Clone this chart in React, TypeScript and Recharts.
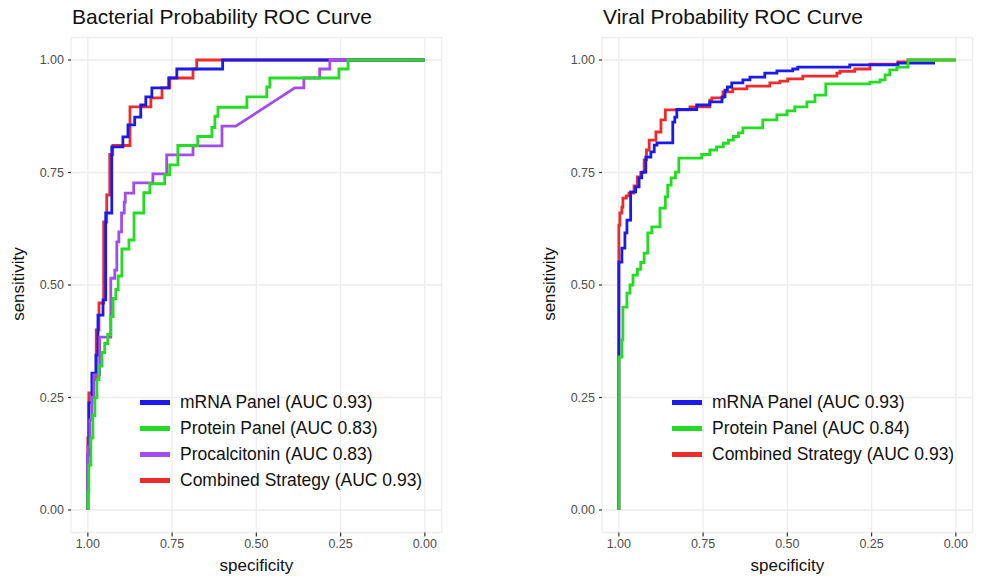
import React from 'react';
import { LineChart, Line, XAxis, YAxis, CartesianGrid } from 'recharts';

// ROC vertices: [specificity, sensitivity]
const bactMrna: number[][] = [
  [1, 0], [1, 0.122], [0.997, 0.122], [0.997, 0.238], [0.988, 0.238], [0.988, 0.304], [0.976, 0.304],
  [0.976, 0.344], [0.97, 0.344], [0.97, 0.433], [0.955, 0.433], [0.955, 0.467], [0.947, 0.467],
  [0.947, 0.66], [0.929, 0.66], [0.929, 0.807], [0.896, 0.807], [0.896, 0.829], [0.881, 0.829],
  [0.881, 0.856], [0.861, 0.856], [0.861, 0.873], [0.843, 0.873], [0.843, 0.9], [0.828, 0.9],
  [0.828, 0.918], [0.81, 0.918], [0.81, 0.938], [0.76, 0.938], [0.76, 0.96], [0.736, 0.96],
  [0.736, 0.98], [0.6, 0.98], [0.6, 1], [0, 1],
];
const bactProtein: number[][] = [
  [1, 0], [1, 0.04], [0.997, 0.04], [0.997, 0.1], [0.991, 0.1], [0.991, 0.16], [0.985, 0.16],
  [0.985, 0.21], [0.979, 0.21], [0.979, 0.25], [0.973, 0.25], [0.973, 0.29], [0.967, 0.29],
  [0.967, 0.32], [0.958, 0.32], [0.958, 0.35], [0.95, 0.35], [0.95, 0.37], [0.941, 0.37],
  [0.941, 0.39], [0.932, 0.39], [0.932, 0.43], [0.925, 0.43], [0.925, 0.47], [0.917, 0.47],
  [0.917, 0.49], [0.91, 0.49], [0.91, 0.52], [0.899, 0.52], [0.899, 0.58], [0.878, 0.58],
  [0.878, 0.6], [0.863, 0.6], [0.863, 0.66], [0.834, 0.66], [0.834, 0.705], [0.816, 0.705],
  [0.816, 0.725], [0.772, 0.725], [0.772, 0.745], [0.757, 0.745], [0.757, 0.767], [0.733, 0.767],
  [0.733, 0.81], [0.674, 0.81], [0.674, 0.83], [0.632, 0.83], [0.632, 0.85], [0.623, 0.85],
  [0.623, 0.875], [0.614, 0.875], [0.614, 0.895], [0.528, 0.895], [0.528, 0.918], [0.469, 0.918],
  [0.469, 0.94], [0.46, 0.94], [0.46, 0.96], [0.255, 0.96], [0.255, 0.98], [0.228, 0.98],
  [0.228, 1], [0, 1],
];
const bactPct: number[][] = [
  [1, 0], [1, 0.14], [0.994, 0.14], [0.994, 0.2], [0.988, 0.2], [0.988, 0.25], [0.982, 0.25],
  [0.982, 0.3], [0.965, 0.3], [0.965, 0.384], [0.932, 0.384], [0.932, 0.515], [0.92, 0.515],
  [0.92, 0.533], [0.914, 0.533], [0.914, 0.596], [0.908, 0.596], [0.908, 0.618], [0.9, 0.618],
  [0.9, 0.66], [0.892, 0.66], [0.892, 0.684], [0.889, 0.684], [0.889, 0.704], [0.864, 0.704],
  [0.864, 0.727], [0.807, 0.727], [0.807, 0.747], [0.766, 0.747], [0.766, 0.789], [0.688, 0.789],
  [0.688, 0.809], [0.602, 0.809], [0.602, 0.853], [0.561, 0.853], [0.386, 0.938], [0.359, 0.938],
  [0.359, 0.96], [0.312, 0.96], [0.312, 0.98], [0.282, 0.98], [0.282, 1], [0, 1],
];
const bactCombined: number[][] = [
  [1, 0], [1, 0.16], [0.997, 0.16], [0.997, 0.26], [0.985, 0.26], [0.985, 0.29], [0.975, 0.29],
  [0.975, 0.4], [0.967, 0.4], [0.967, 0.46], [0.953, 0.46], [0.953, 0.64], [0.944, 0.64],
  [0.944, 0.7], [0.935, 0.7], [0.935, 0.79], [0.926, 0.79], [0.926, 0.81], [0.875, 0.81],
  [0.875, 0.896], [0.813, 0.896], [0.813, 0.916], [0.78, 0.916], [0.78, 0.938], [0.757, 0.938],
  [0.757, 0.96], [0.688, 0.96], [0.688, 0.98], [0.677, 0.98], [0.677, 1], [0, 1],
];

const viralMrna: number[][] = [
  [1, 0], [1, 0.551], [0.991, 0.551], [0.991, 0.582], [0.982, 0.582], [0.982, 0.616], [0.976, 0.616],
  [0.976, 0.644], [0.965, 0.644], [0.965, 0.707], [0.95, 0.707], [0.95, 0.718], [0.94, 0.718],
  [0.94, 0.738], [0.932, 0.738], [0.932, 0.751], [0.92, 0.751], [0.92, 0.784], [0.905, 0.784],
  [0.905, 0.796], [0.895, 0.796], [0.895, 0.811], [0.887, 0.811], [0.887, 0.816], [0.84, 0.816],
  [0.84, 0.862], [0.834, 0.862], [0.834, 0.873], [0.828, 0.873], [0.828, 0.89], [0.769, 0.89],
  [0.769, 0.9], [0.73, 0.9], [0.73, 0.907], [0.694, 0.907], [0.694, 0.918], [0.685, 0.918],
  [0.685, 0.933], [0.678, 0.933], [0.678, 0.94], [0.665, 0.94], [0.665, 0.949], [0.632, 0.949],
  [0.632, 0.956], [0.611, 0.956], [0.611, 0.962], [0.567, 0.962], [0.567, 0.971], [0.531, 0.971],
  [0.531, 0.976], [0.484, 0.976], [0.484, 0.98], [0.469, 0.98], [0.469, 0.984], [0.315, 0.984],
  [0.315, 0.989], [0.172, 0.989], [0.172, 0.993], [0.062, 0.993],
];
const viralProtein: number[][] = [
  [1, 0], [1, 0.34], [0.991, 0.34], [0.991, 0.378], [0.988, 0.378], [0.988, 0.451], [0.976, 0.451],
  [0.976, 0.482], [0.967, 0.482], [0.967, 0.5], [0.958, 0.5], [0.958, 0.522], [0.945, 0.522],
  [0.945, 0.535], [0.935, 0.535], [0.935, 0.55], [0.925, 0.55], [0.925, 0.571], [0.914, 0.571],
  [0.914, 0.616], [0.902, 0.616], [0.902, 0.629], [0.878, 0.629], [0.878, 0.671], [0.862, 0.671],
  [0.862, 0.696], [0.855, 0.696], [0.855, 0.722], [0.845, 0.722], [0.845, 0.738], [0.832, 0.738],
  [0.832, 0.751], [0.822, 0.751], [0.822, 0.782], [0.754, 0.782], [0.754, 0.79], [0.73, 0.79],
  [0.73, 0.8], [0.71, 0.8], [0.71, 0.807], [0.69, 0.807], [0.69, 0.815], [0.675, 0.815],
  [0.675, 0.822], [0.66, 0.822], [0.66, 0.83], [0.645, 0.83], [0.645, 0.838], [0.632, 0.838],
  [0.632, 0.849], [0.573, 0.849], [0.573, 0.867], [0.531, 0.867], [0.531, 0.878], [0.501, 0.878],
  [0.501, 0.887], [0.478, 0.887], [0.478, 0.896], [0.442, 0.896], [0.442, 0.907], [0.418, 0.907],
  [0.418, 0.922], [0.386, 0.922], [0.386, 0.947], [0.255, 0.947], [0.255, 0.951], [0.225, 0.951],
  [0.225, 0.956], [0.21, 0.956], [0.21, 0.967], [0.196, 0.967], [0.196, 0.978], [0.175, 0.978],
  [0.175, 0.984], [0.142, 0.984], [0.142, 1], [0, 1],
];
const viralCombined: number[][] = [
  [1, 0], [1, 0.633], [0.997, 0.633], [0.997, 0.66], [0.991, 0.66], [0.991, 0.673], [0.988, 0.673],
  [0.988, 0.693], [0.978, 0.693], [0.978, 0.698], [0.97, 0.698], [0.97, 0.704], [0.955, 0.704],
  [0.955, 0.72], [0.945, 0.72], [0.945, 0.74], [0.935, 0.74], [0.935, 0.75], [0.925, 0.75],
  [0.925, 0.778], [0.918, 0.778], [0.918, 0.8], [0.91, 0.8], [0.91, 0.822], [0.89, 0.822],
  [0.89, 0.84], [0.875, 0.84], [0.875, 0.867], [0.862, 0.867], [0.862, 0.889], [0.789, 0.889],
  [0.789, 0.896], [0.73, 0.896], [0.73, 0.911], [0.724, 0.911], [0.724, 0.916], [0.691, 0.916],
  [0.691, 0.929], [0.662, 0.929], [0.662, 0.936], [0.62, 0.936], [0.62, 0.942], [0.552, 0.942],
  [0.552, 0.949], [0.522, 0.949], [0.522, 0.953], [0.499, 0.953], [0.499, 0.958], [0.454, 0.958],
  [0.454, 0.964], [0.353, 0.964], [0.353, 0.971], [0.344, 0.971], [0.344, 0.975], [0.3, 0.975],
  [0.3, 0.98], [0.255, 0.98], [0.255, 0.991], [0.172, 0.991], [0.172, 0.996], [0.142, 0.996],
  [0.142, 1], [0, 1],
];

const axisTicks = [0, 0.25, 0.5, 0.75, 1];

const BLUE = '#1a1aee';
const GREEN = '#22dd22';
const PURPLE = '#a24cf0';
const RED = '#ee2b2b';

const toPts = (arr: number[][]) => arr.map(([x, y]) => ({ x, y }));

type Series = { name: string; color: string; data: number[][] };

const FONT = '"Liberation Sans", Arial, sans-serif';

const RocPanel = ({ left, yAxisW, title, series, drawOrder, legendX }: {
  left: number; yAxisW: number; title: string; series: Series[]; drawOrder: number[]; legendX: number;
}) => {
  const W = 491;
  const plotW = 370.7;
  return (
    <div style={{ position: 'absolute', left, top: 0, width: W, height: 579, fontFamily: FONT }}>
      <LineChart width={W} height={579} margin={{ top: 37.5, right: W - yAxisW - plotW, left: 0, bottom: 0 }}>
        <CartesianGrid stroke="#ededed" strokeWidth={1.3} />
        <XAxis
          dataKey="x" type="number" domain={[-0.05, 1.05]} reversed ticks={axisTicks}
          allowDataOverflow height={46.5} axisLine={false} tickSize={4} tickMargin={3}
          tickLine={{ stroke: '#333', strokeWidth: 1.2 }}
          tickFormatter={(v: number) => v.toFixed(2)}
          tick={{ fill: '#4d4d4d', fontSize: 12.5, fontFamily: FONT }}
        />
        <YAxis
          dataKey="y" type="number" domain={[-0.05, 1.05]} ticks={axisTicks}
          allowDataOverflow width={yAxisW} axisLine={false} tickSize={3} tickMargin={4}
          tickLine={{ stroke: '#333', strokeWidth: 1.2 }}
          tickFormatter={(v: number) => v.toFixed(2)}
          tick={{ fill: '#4d4d4d', fontSize: 12.5, fontFamily: FONT }}
        />
        {drawOrder.map((i) => (
          <Line
            key={series[i].name} data={toPts(series[i].data)} dataKey="y" type="linear"
            stroke={series[i].color} strokeWidth={2.8} dot={false} activeDot={false}
            isAnimationActive={false}
          />
        ))}
      </LineChart>
      <div style={{ position: 'absolute', left: yAxisW + 1, top: 5, fontSize: 21, color: '#111' }}>{title}</div>
      <div style={{ position: 'absolute', left: yAxisW, width: plotW, top: 556, textAlign: 'center', fontSize: 17, color: '#111' }}>specificity</div>
      <div style={{
        position: 'absolute', left: yAxisW - 52 - 100, top: 285 - 11, width: 200, textAlign: 'center',
        fontSize: 17, color: '#111', transform: 'rotate(-90deg)',
      }}>sensitivity</div>
      <div style={{ position: 'absolute', left: legendX, top: 389 }}>
        {series.map((s) => (
          <div key={s.name} style={{ display: 'flex', alignItems: 'center', height: 26 }}>
            <div style={{ width: 30, height: 5, background: s.color, marginRight: 10 }} />
            <span style={{ fontSize: 17.5, color: '#111', whiteSpace: 'nowrap' }}>{s.name}</span>
          </div>
        ))}
      </div>
    </div>
  );
};

const bactSeries: Series[] = [
  { name: 'mRNA Panel (AUC 0.93)', color: BLUE, data: bactMrna },
  { name: 'Protein Panel (AUC 0.83)', color: GREEN, data: bactProtein },
  { name: 'Procalcitonin (AUC 0.83)', color: PURPLE, data: bactPct },
  { name: 'Combined Strategy (AUC 0.93)', color: RED, data: bactCombined },
];
const viralSeries: Series[] = [
  { name: 'mRNA Panel (AUC 0.93)', color: BLUE, data: viralMrna },
  { name: 'Protein Panel (AUC 0.84)', color: GREEN, data: viralProtein },
  { name: 'Combined Strategy (AUC 0.93)', color: RED, data: viralCombined },
];

export default function App() {
  return (
    <div style={{ position: 'absolute', left: 0, top: 0, width: 982, height: 579, background: '#fff', overflow: 'hidden' }}>
      <RocPanel left={0} yAxisW={71} title="Bacterial Probability ROC Curve" series={bactSeries} drawOrder={[3, 0, 2, 1]} legendX={140} />
      <RocPanel left={491} yAxisW={111} title="Viral Probability ROC Curve" series={viralSeries} drawOrder={[2, 0, 1]} legendX={181} />
    </div>
  );
}
